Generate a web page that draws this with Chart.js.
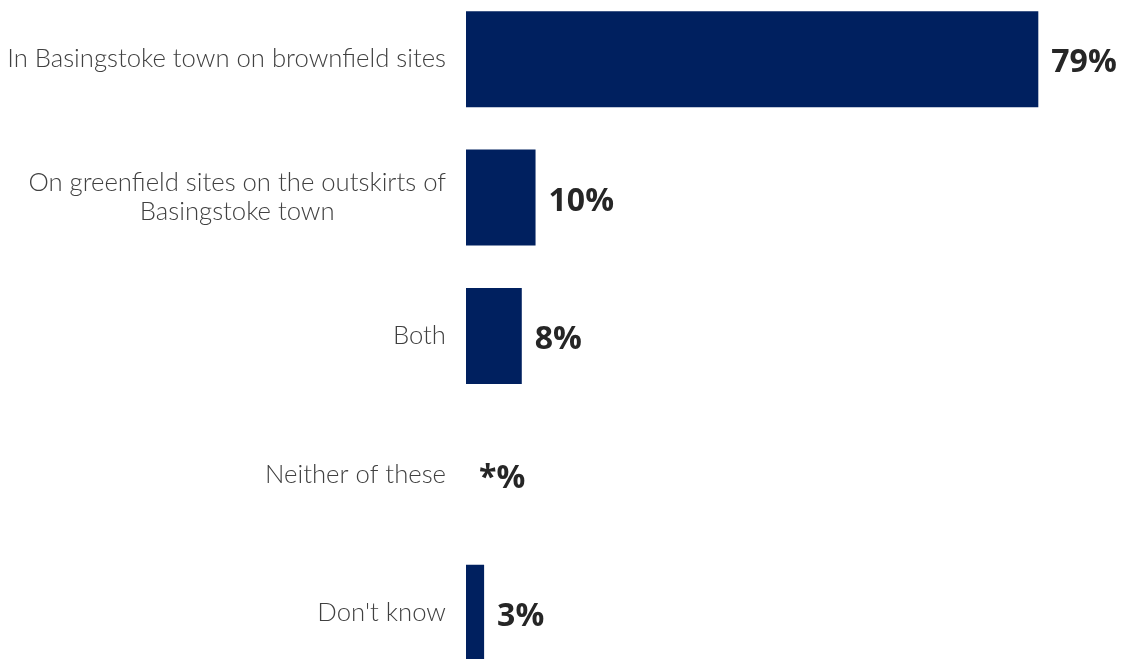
<!DOCTYPE html>
<html>
<head>
<meta charset="utf-8">
<script src="https://cdn.jsdelivr.net/npm/chart.js@4"></script>
<style>
  html, body { margin: 0; padding: 0; background: #ffffff; overflow: hidden; width: 1122px; height: 659px; }
  #wrap { position: absolute; left: 0; top: -10px; width: 1122px; height: 692px; }
</style>
</head>
<body>
<div id="wrap"><canvas id="c"></canvas></div>
<script>
const categories = [
  ['In Basingstoke town on brownfield sites'],
  ['On greenfield sites on the outskirts of', 'Basingstoke town'],
  ['Both'],
  ['Neither of these'],
  ["Don't know"]
];
const values = [79, 9.6, 7.7, 0, 2.5];
const valueLabels = ['79%', '10%', '8%', '*%', '3%'];

const LABEL_FONT = '300 25.7px Lato';
const VALUE_FONT = 'bold 32px "Open Sans"';

const labelPlugin = {
  id: 'customLabels',
  afterDatasetsDraw(chart) {
    const ctx = chart.ctx;
    const yScale = chart.scales.y;
    const meta = chart.getDatasetMeta(0);
    ctx.save();
    // category labels
    ctx.font = LABEL_FONT;
    ctx.fillStyle = '#404040';
    ctx.textBaseline = 'middle';
    const rightX = chart.chartArea.left - 20;
    const lineH = 29;
    categories.forEach((lines, i) => {
      const cy = yScale.getPixelForValue(i);
      const maxW = Math.max(...lines.map(l => ctx.measureText(l).width));
      const startY = cy - (lines.length - 1) * lineH / 2;
      lines.forEach((l, j) => {
        if (lines.length === 1) {
          ctx.textAlign = 'right';
          ctx.fillText(l, rightX, startY + j * lineH);
        } else {
          ctx.textAlign = 'center';
          ctx.fillText(l, rightX - maxW / 2, startY + j * lineH);
        }
      });
    });
    // value labels
    ctx.font = VALUE_FONT;
    ctx.fillStyle = '#262626';
    ctx.textAlign = 'left';
    meta.data.forEach((bar, i) => {
      ctx.fillText(valueLabels[i], bar.x + 13, bar.y + 4);
    });
    ctx.restore();
  }
};

new Chart(document.getElementById('c'), {
  type: 'bar',
  data: {
    labels: categories,
    datasets: [{
      data: values,
      backgroundColor: '#00205F',
      borderWidth: 0,
      barPercentage: 0.694,
      categoryPercentage: 1
    }]
  },
  options: {
    indexAxis: 'y',
    responsive: true,
    maintainAspectRatio: false,
    animation: false,
    layout: { padding: { left: 466, right: 4, top: 0, bottom: 0 } },
    plugins: { legend: { display: false }, tooltip: { enabled: false } },
    scales: {
      x: { display: false, min: 0, max: 90 },
      y: { display: false, offset: true, grid: { display: false } }
    }
  },
  plugins: [labelPlugin]
});
</script>
</body>
</html>
